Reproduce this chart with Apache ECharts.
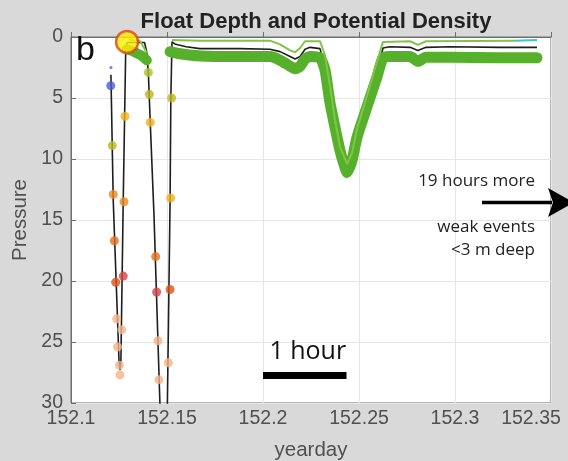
<!DOCTYPE html>
<html><head><meta charset="utf-8">
<script src="https://cdn.jsdelivr.net/npm/echarts@6/dist/echarts.min.js"></script>
<style>html,body{margin:0;padding:0;background:#d9d9d9}#c{width:568px;height:461px}</style>
</head><body><div id="c"></div>
<script>
// ---- data (yearday, pressure) ----
const xTicks = [152.1, 152.15, 152.2, 152.25, 152.3, 152.35];
const yTicks = [0, 5, 10, 15, 20, 25, 30];

const floatDepth = [
  [152.1208, 3.1], [152.1220, 13.4], [152.1250, 26.5], [152.1255, 27.3], [152.1260, 26.5],
  [152.1272, 13.4], [152.1285, 1.0], [152.1292, 0.45], [152.1383, 0.45], [152.1394, 1.2],
  [152.1403, 3.0], [152.1413, 7.1], [152.1432, 14.5], [152.1463, 30], [152.1470, 34],
  [152.1497, 34], [152.1502, 30], [152.1516, 13.5], [152.1520, 5], [152.1526, 0.4],
  [152.1545, 0.6], [152.1600, 0.8], [152.1672, 0.95], [152.1880, 0.95], [152.2036, 1.0],
  [152.2089, 1.2], [152.2141, 1.6], [152.2167, 1.8], [152.2193, 1.6], [152.2219, 1.0],
  [152.2245, 0.85], [152.2297, 0.95], [152.2323, 2.6], [152.2349, 5.2], [152.2375, 7.4],
  [152.2401, 9.3], [152.2438, 10.7], [152.2464, 9.9], [152.2490, 8.0], [152.2542, 5.6],
  [152.2594, 3.0], [152.2625, 0.9], [152.2661, 0.8], [152.2766, 0.85], [152.2807, 1.1],
  [152.2849, 0.85], [152.2974, 0.8], [152.3234, 0.85], [152.3427, 0.85]
];

const isoDeepEarly = [
  [152.1290, 1.0], [152.1320, 1.15], [152.1345, 1.35], [152.1370, 1.55], [152.1395, 1.9]
];
const isoDeepMain = [
  [152.1516, 1.2], [152.1560, 1.35], [152.1672, 1.55], [152.1880, 1.6], [152.2036, 1.6],
  [152.2089, 1.9], [152.2141, 2.4], [152.2167, 2.6], [152.2193, 2.4], [152.2219, 1.8],
  [152.2245, 1.6], [152.2297, 1.7], [152.2323, 2.7], [152.2349, 5.4], [152.2375, 7.4],
  [152.2401, 9.3], [152.2425, 10.6], [152.2438, 11.1], [152.2451, 10.7], [152.2464, 10.1],
  [152.2490, 8.2], [152.2542, 5.7], [152.2594, 3.25], [152.2625, 1.7], [152.2661, 1.6],
  [152.2766, 1.6], [152.2807, 2.0], [152.2849, 1.65], [152.2974, 1.65], [152.3234, 1.7],
  [152.3427, 1.7]
];
const isoShallowEarly = [
  [152.1300, 0.2], [152.1360, 0.35], [152.1395, 1.3]
];
const isoShallowMain = [
  [152.1526, 0.25], [152.1672, 0.3], [152.2036, 0.3], [152.2089, 0.6], [152.2141, 1.1],
  [152.2167, 1.25], [152.2193, 0.9], [152.2219, 0.35], [152.2297, 0.35], [152.2323, 1.5],
  [152.2349, 4.0], [152.2375, 6.8], [152.2401, 9.0], [152.2438, 10.4], [152.2464, 9.5],
  [152.2490, 7.5], [152.2542, 4.8], [152.2594, 2.0], [152.2625, 0.4], [152.2766, 0.35],
  [152.2807, 0.65], [152.2849, 0.35], [152.3312, 0.3]
];
const isoShallowTail = [[152.3312, 0.3], [152.3427, 0.25]];

// samples: yearday, pressure, colour class
const sampleX = [152.1207, 152.1208, 152.1215, 152.1220, 152.1226, 152.1233, 152.1238, 152.1243, 152.1252, 152.1255,
  152.1264, 152.1272, 152.1276, 152.1281, 152.1403, 152.1408, 152.1413, 152.1441, 152.1446, 152.1453,
  152.1458, 152.1524, 152.1519, 152.1516, 152.1507];
const sampleP = [4.0, 2.5, 8.9, 12.9, 16.7, 20.1, 23.1, 25.4, 26.9, 27.7,
  24.0, 19.6, 13.5, 6.5, 2.9, 4.7, 7.0, 18.0, 20.9, 24.9,
  28.1, 5.0, 13.2, 20.7, 26.7];
const sampleClass = [0, 0, 2, 4, 5, 6, 8, 8, 8, 8,
  8, 7, 4, 3, 1, 2, 3, 5, 7, 8,
  8, 2, 3, 6, 8];

const surfacing = [[152.1292, 0.4]];
const scaleBar = [[152.2, 27.75], [152.2435, 27.75]];
const scaleBarLabel = '1 hour';

// ---- styles ----
const palette = ['#4a5fd8', '#a9c42a', '#bdb820', '#efb01e', '#ea8a1a', '#e2701a', '#dc5418', '#d4424a', '#f2b488'];
const axisText = '#505050';
const fontMain = '"Liberation Sans", Arial, sans-serif';
const fontNote = '"Open Sans", sans-serif';

const chart = echarts.init(document.getElementById('c'), null, {renderer: 'canvas'});

const fmtX = v => parseFloat(v.toFixed(2)).toString();

chart.setOption({
  backgroundColor: '#d9d9d9',
  animation: false,
  title: {
    text: 'Float Depth and Potential Density',
    left: 311, top: 6, textAlign: 'center',
    textStyle: {fontFamily: fontMain, fontWeight: 'bold', fontSize: 22, color: '#222'}
  },
  grid: {left: 71, right: 17, top: 37, bottom: 58, show: true, backgroundColor: '#ffffff',
         borderColor: '#6e6e6e', borderWidth: 1, containLabel: false, outerBoundsMode: 'none'},
  xAxis: {
    type: 'value', min: xTicks[0], max: xTicks[xTicks.length - 1], interval: 0.05,
    name: 'yearday', nameLocation: 'middle', nameGap: 37,
    nameTextStyle: {fontFamily: fontMain, fontSize: 20.5, color: axisText},
    axisLine: {lineStyle: {color: '#6e6e6e'}},
    axisTick: {inside: true, length: 5, lineStyle: {color: '#6e6e6e'}},
    splitLine: {show: true, lineStyle: {color: '#e6e6e6', width: 1}},
    axisLabel: {
      showMaxLabel: true, showMinLabel: true, margin: 6,
      fontFamily: fontMain, fontSize: 19.5, color: axisText,
      formatter: v => (Math.abs(v - xTicks[xTicks.length - 1]) < 1e-6 ? '{r|' + fmtX(v) + '}' : fmtX(v)),
      rich: {r: {padding: [0, 40, 0, 0], fontFamily: fontMain, fontSize: 19.5, color: axisText}}
    }
  },
  yAxis: {
    type: 'value', inverse: true, min: yTicks[0], max: yTicks[yTicks.length - 1], interval: 5,
    name: 'Pressure', nameLocation: 'middle', nameGap: 38, nameRotate: 90,
    nameTextStyle: {fontFamily: fontMain, fontSize: 20.5, color: axisText},
    axisLine: {show: true, lineStyle: {color: '#6e6e6e'}},
    axisTick: {show: true, inside: true, length: 5, lineStyle: {color: '#6e6e6e'}},
    splitLine: {show: true, lineStyle: {color: '#e6e6e6', width: 1}},
    axisLabel: {margin: 8, fontFamily: fontMain, fontSize: 19.5, color: axisText}
  },
  series: [
    {type: 'line', data: floatDepth, symbol: 'none', z: 3,
     lineStyle: {color: '#1e1e1e', width: 1.6}},
    {type: 'line', data: isoDeepEarly, symbol: 'none', z: 4,
     lineStyle: {color: '#57b02c', width: 10, cap: 'round', join: 'round'}},
    {type: 'line', data: isoDeepMain, symbol: 'none', z: 4, smooth: 0.2,
     lineStyle: {color: '#57b02c', width: 11, cap: 'round', join: 'round'}},
    {type: 'line', data: isoShallowEarly, symbol: 'none', z: 5,
     lineStyle: {color: '#80c448', width: 2}},
    {type: 'line', data: isoShallowMain, symbol: 'none', z: 5,
     lineStyle: {color: '#80c448', width: 2}},
    {type: 'line', data: isoShallowTail, symbol: 'none', z: 5,
     lineStyle: {color: '#3cc6c4', width: 2}},
    {type: 'scatter', z: 6, symbolSize: (v, p) => (p.dataIndex === 1 ? 3 : 9),
     data: sampleX.map((x, i) => ({value: [x, sampleP[i]], itemStyle: {color: palette[sampleClass[i]]}}))},
    {type: 'scatter', z: 7, data: surfacing, symbolSize: 22, clip: false,
     itemStyle: {color: '#ffee00', borderColor: '#e2401a', borderWidth: 2.5}},
    {type: 'line', data: scaleBar, symbol: 'none', z: 8,
     lineStyle: {color: '#000', width: 7, cap: 'butt'}}
  ]
});

const barStart = chart.convertToPixel({gridIndex: 0}, scaleBar[0]);
const barEnd = chart.convertToPixel({gridIndex: 0}, scaleBar[1]);

chart.setOption({
  graphic: [
    {type: 'text', left: 76, top: 34, z: 20,
     style: {text: 'b', font: '34px ' + fontMain, fill: '#111'}},
    {type: 'text', x: (barStart[0] + barEnd[0]) / 2 + 3, y: barStart[1] - 24, z: 20,
     style: {text: scaleBarLabel, font: '25px ' + fontNote, fill: '#111', align: 'center', verticalAlign: 'middle'}},
    {type: 'text', x: 535, y: 181, z: 20,
     style: {text: '19 hours more', font: '17px ' + fontNote, fill: '#222', align: 'right', verticalAlign: 'middle'}},
    {type: 'text', x: 535, y: 227, z: 20,
     style: {text: 'weak events', font: '17px ' + fontNote, fill: '#222', align: 'right', verticalAlign: 'middle'}},
    {type: 'text', x: 535, y: 250, z: 20,
     style: {text: '<3 m deep', font: '17px ' + fontNote, fill: '#222', align: 'right', verticalAlign: 'middle'}},
    {type: 'line', z: 20, shape: {x1: 482, y1: 202.5, x2: 552, y2: 202.5},
     style: {stroke: '#000', lineWidth: 3.5}},
    {type: 'polygon', z: 20, shape: {points: [[548, 188], [574, 202.5], [548, 217], [553, 202.5]]},
     style: {fill: '#000'}}
  ]
});
</script></body></html>
